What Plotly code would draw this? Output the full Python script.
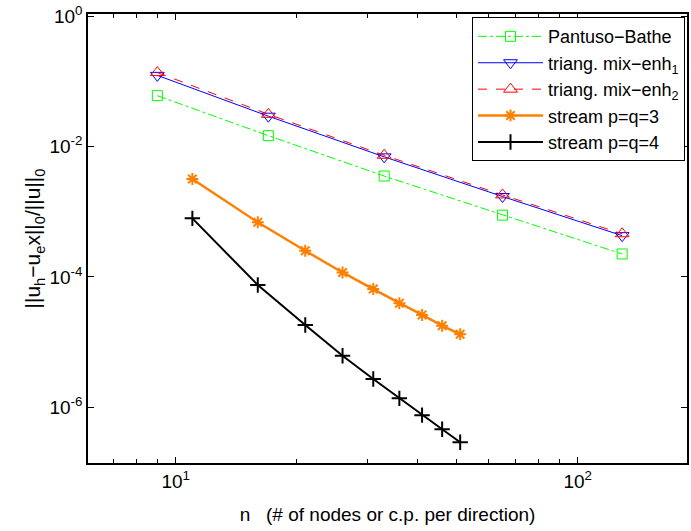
import plotly.graph_objects as go
import numpy as np

# ---- data ----
n_tri = [9, 17, 33, 65, 129]
pantuso = [6.1e-2, 1.48e-2, 3.55e-3, 8.9e-4, 2.25e-4]
tri_enh1 = [0.125, 2.95e-2, 7.0e-3, 1.72e-3, 4.3e-4]
tri_enh2 = [0.138, 3.15e-2, 7.4e-3, 1.82e-3, 4.6e-4]

n_stream = [11, 16, 21, 26, 31, 36, 41, 46, 51]
stream3 = [3.19e-3, 6.9e-4, 2.52e-4, 1.17e-4, 6.5e-5, 3.93e-5, 2.6e-5, 1.78e-5, 1.31e-5]
stream4 = [7.94e-4, 7.5e-5, 1.82e-5, 6.15e-6, 2.7e-6, 1.36e-6, 7.5e-7, 4.55e-7, 2.87e-7]

x_tickvals = [10, 100]
x_ticktext = ["10<sup>1</sup>", "10<sup>2</sup>"]
x_minor = [7, 8, 9, 20, 30, 40, 50, 60, 70, 80, 90]
y_tickvals = [1e-6, 1e-4, 1e-2, 1]
y_ticktext = ["10<sup>-6</sup>", "10<sup>-4</sup>", "10<sup>-2</sup>", "10<sup>0</sup>"]

FONT = "Liberation Sans, Arial, Helvetica, sans-serif"

fig = go.Figure()
fig.add_trace(go.Scatter(
    x=n_tri, y=pantuso, name="Pantuso−Bathe", mode="lines+markers",
    line=dict(color="#00ff00", width=1, dash="dashdot"),
    marker=dict(symbol="square-open", size=10, color="#00ff00", line=dict(width=1))))
fig.add_trace(go.Scatter(
    x=n_tri, y=tri_enh1, name="triang. mix−enh<sub>1</sub>", mode="lines+markers",
    line=dict(color="#0000ff", width=1),
    marker=dict(symbol="triangle-down-open", size=12, color="#0000ff", line=dict(width=1))))
fig.add_trace(go.Scatter(
    x=n_tri, y=tri_enh2, name="triang. mix−enh<sub>2</sub>", mode="lines+markers",
    line=dict(color="#ff0000", width=1, dash="dash"),
    marker=dict(symbol="triangle-up-open", size=12, color="#ff0000", line=dict(width=1))))
fig.add_trace(go.Scatter(
    x=n_stream, y=stream3, name="stream p=q=3", mode="lines+markers",
    line=dict(color="#ff8000", width=2.5),
    marker=dict(symbol="asterisk-open", size=10, color="#ff8000", line=dict(width=2, color="#ff8000"))))
fig.add_trace(go.Scatter(
    x=n_stream, y=stream4, name="stream p=q=4", mode="lines+markers",
    line=dict(color="#000000", width=2),
    marker=dict(symbol="cross-thin-open", size=11, color="#000000", line=dict(width=2, color="#000000"))))

fig.update_layout(
    width=691, height=531,
    margin=dict(l=88, r=2, t=14, b=68),
    paper_bgcolor="white", plot_bgcolor="white",
    font=dict(family=FONT, size=19, color="black"),
    showlegend=True,
    legend=dict(x=(687 - 88) / 601, y=0.993, xanchor="right", yanchor="top",
                bordercolor="black", borderwidth=1, bgcolor="white",
                font=dict(family=FONT, size=18), tracegroupgap=0, itemwidth=65),
    xaxis=dict(type="log", range=[np.log10(6.05), np.log10(187)],
               tickmode="array", tickvals=x_tickvals, ticktext=x_ticktext,
               ticks="inside", ticklen=6, tickwidth=1, tickcolor="black",
               minor=dict(ticks="inside", tickmode="array", tickvals=x_minor, ticklen=4, tickcolor="black"),
               showline=True, linecolor="black", linewidth=1.5, mirror="allticks",
               showgrid=False, zeroline=False,
               tickfont=dict(size=19),
               title=dict(text="\u00a0" * 7 + "n \u00a0 (# of nodes or c.p. per direction)",
                          font=dict(size=19), standoff=17)),
    yaxis=dict(type="log", range=[-6.86, 0.04],
               tickmode="array", tickvals=y_tickvals, ticktext=y_ticktext,
               ticks="inside", ticklen=6, tickwidth=1, tickcolor="black",
               showline=True, linecolor="black", linewidth=1.5, mirror="allticks",
               showgrid=False, zeroline=False,
               tickfont=dict(size=19),
               title=dict(text="||u<sub>h</sub>−u<sub>e</sub>x||<sub>0</sub>/||u||<sub>0</sub>",
                          font=dict(size=21), standoff=3)),
)

fig.write_html("out.html")
